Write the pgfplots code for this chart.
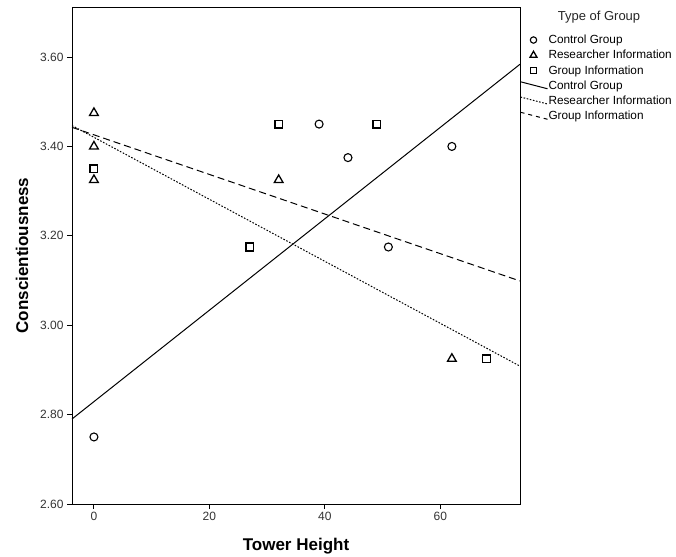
\documentclass[border=0pt]{standalone}
\usepackage{pgfplots}
\pgfplotsset{compat=1.18}
\usepackage{fontspec}
\setmainfont{Liberation Sans}
\pgfplotsset{
  mleg/.style={legend image code/.code={\path[draw=none,fill=none] (0pt,-1pt) rectangle (28pt,1pt); \draw[##1] plot[only marks, #1] coordinates {(13pt,0pt)};}},
  lleg/.style={legend image code/.code={\path[draw=none,fill=none] (0pt,-1pt) rectangle (28pt,1pt); \draw[##1, #1] (0pt,4pt) -- (27pt,-3pt);}},
}
\begin{document}
\begin{tikzpicture}
\begin{axis}[
  at={(72pt,52pt)}, anchor=south west,
  scale only axis, width=448pt, height=497pt,
  xmin=-3.8, xmax=73.8, ymin=2.6, ymax=3.712,
  xtick={0,20,40,60}, ytick={2.6,2.8,3.0,3.2,3.4,3.6},
  yticklabel style={/pgf/number format/.cd, fixed, fixed zerofill, precision=2},
  /pgf/number format/assume math mode=true,
  tick label style={font=\fontsize{12}{14}\selectfont, text=black!80},
  tick align=outside, major tick length=5pt,
  xtick pos=bottom, ytick pos=left,
  axis line style={black, line width=0.9pt},
  tick style={black, line width=0.9pt},
  xlabel={\textbf{Tower Height}},
  ylabel={\textbf{Conscientiousness}},
  xlabel style={font=\fontsize{17}{20}\selectfont, at={(axis description cs:0.5,-0.0845)}, anchor=center},
  ylabel style={font=\fontsize{17}{20}\selectfont, at={(axis description cs:-0.1116,0.5)}, anchor=center},
  clip=false,
  legend style={at={(axis description cs:1,1)}, anchor=north west, yshift=-28pt,
    draw=none, fill=none, inner sep=0pt, outer sep=0pt,
    font=\fontsize{11.8}{13}\selectfont,
    row sep=5.2pt, column sep=0pt,
    nodes={inner sep=0pt, outer sep=0pt}},
  legend cell align=left,
]
\addplot[only marks, mark=o, mark size=4pt, line width=1.1pt, mleg={mark size=3.2pt}]
  coordinates {(0,2.75) (39,3.45) (44,3.375) (51,3.175) (62,3.40)};
\addlegendentry{Control Group}
\addplot[only marks, mark=triangle, mark size=5pt, line width=1.3pt, mleg={mark size=4pt}]
  coordinates {(0,3.475) (0,3.40) (0,3.325) (32,3.325) (62,2.925)};
\addlegendentry{Researcher Information}
\addplot[only marks, mark=square, mark size=3.8pt, line width=1.5pt, mleg={mark size=3.2pt, line width=1pt}]
  coordinates {(0,3.35) (32,3.45) (49,3.45) (27,3.175) (68,2.925)};
\addlegendentry{Group Information}
\addplot[black, line width=1pt, no marks, lleg={}]
  coordinates {(-3.8,2.790175) (73.8,3.583906)};
\addlegendentry{Control Group}
\addplot[black, line width=1pt, no marks, dash pattern=on 1.6pt off 1.6pt, lleg={}]
  coordinates {(-3.8,3.446774) (73.8,2.908471)};
\addlegendentry{Researcher Information}
\addplot[black, line width=1pt, no marks, dash pattern=on 7pt off 4pt, lleg={dash pattern=on 4pt off 4pt}]
  coordinates {(-3.8,3.442821) (73.8,3.098952)};
\addlegendentry{Group Information}
\node[font=\fontsize{13}{15}\selectfont, anchor=center, text=black!85] at (rel axis cs:1,1) [xshift=79pt, yshift=-10pt] {Type of Group};
\end{axis}
\pgfresetboundingbox
\path (0,0) rectangle (676pt,556pt);
\end{tikzpicture}
\end{document}
